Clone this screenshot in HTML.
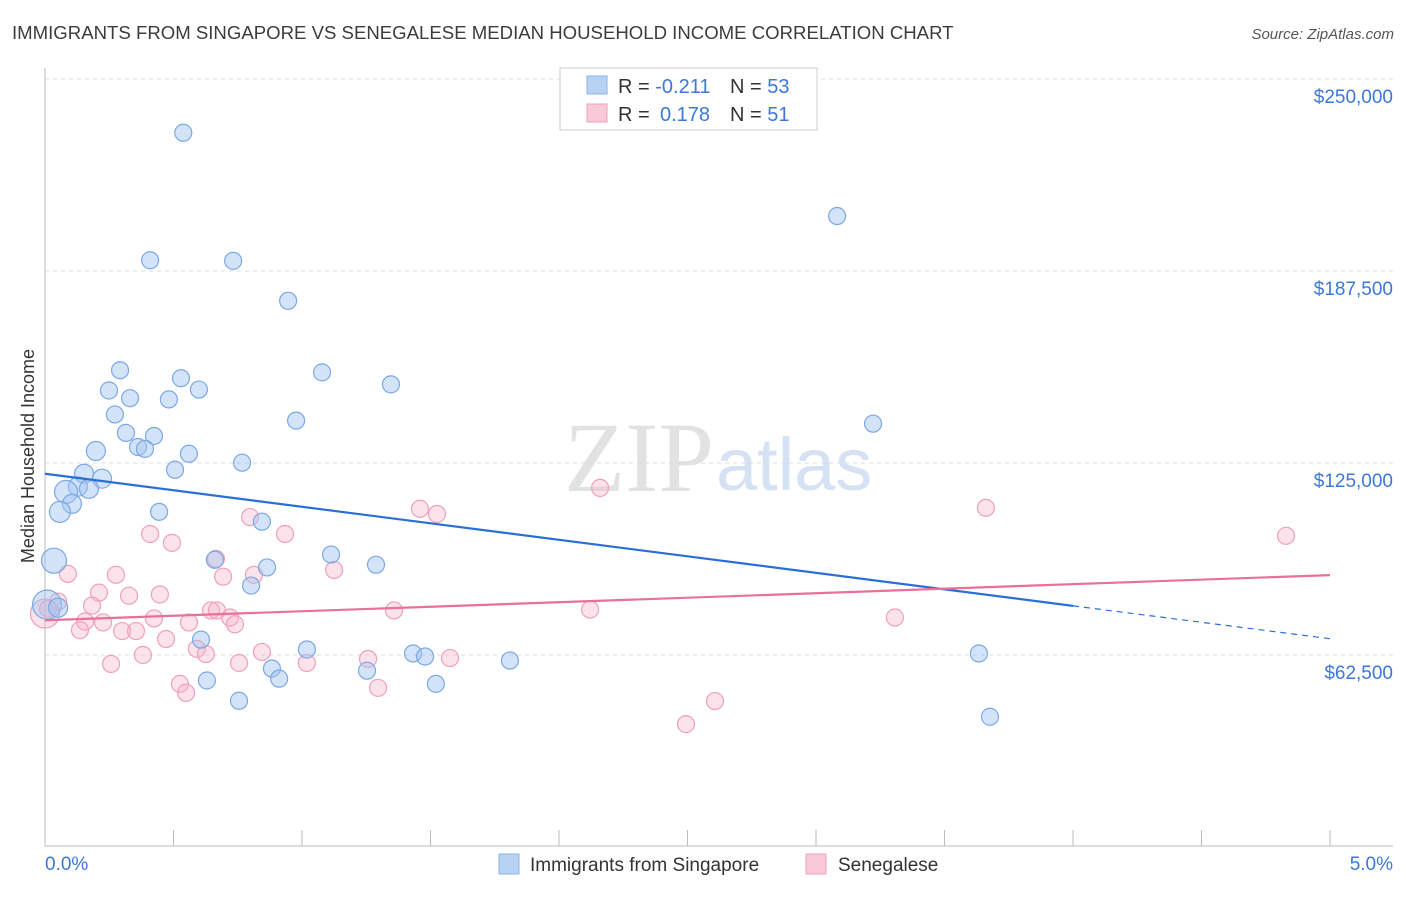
<!DOCTYPE html>
<html><head><meta charset="utf-8"><style>
body{margin:0;background:#fff;font-family:"Liberation Sans",sans-serif;overflow:hidden;}
</style></head><body>
<svg id="c" width="1406" height="892" xmlns="http://www.w3.org/2000/svg">
<text x="12" y="39" font-size="18.6" fill="#3c3c3c">IMMIGRANTS FROM SINGAPORE VS SENEGALESE MEDIAN HOUSEHOLD INCOME CORRELATION CHART</text>
<text x="1394" y="39" font-size="15" fill="#555" text-anchor="end" font-style="italic">Source: ZipAtlas.com</text>
<text transform="translate(34,456) rotate(-90)" font-size="18" fill="#333" text-anchor="middle">Median Household Income</text>
<text x="714" y="491" font-size="100" fill="#e2e2e2" text-anchor="end" font-family="Liberation Serif,serif">ZIP</text>
<text x="716" y="490" font-size="74" fill="#d4e2f4">atlas</text>
<g id="grid"></g><g id="pts"></g><g id="lines"></g>
<g>
<rect x="560" y="68" width="257" height="62" fill="#fff" stroke="#ccc"/>
<rect x="587" y="76" width="20" height="18" fill="#b8d2f4" stroke="#8ab4e8"/>
<rect x="587" y="104" width="20" height="18" fill="#f8cad8" stroke="#f0a0b8"/>
<text x="618" y="93" font-size="20" fill="#333">R = <tspan fill="#3b78d8">-0.211</tspan>   <tspan x="730">N = </tspan><tspan fill="#3b78d8">53</tspan></text>
<text x="618" y="121" font-size="20" fill="#333">R =  <tspan fill="#3b78d8" x="660">0.178</tspan><tspan x="730">N = </tspan><tspan fill="#3b78d8">51</tspan></text>
</g>
<g>
<rect x="499" y="854" width="20" height="20" fill="#b8d2f4" stroke="#8ab4e8"/>
<text x="530" y="871" font-size="19" fill="#333">Immigrants from Singapore</text>
<rect x="806" y="854" width="20" height="20" fill="#f8cad8" stroke="#f0a0b8"/>
<text x="838" y="871" font-size="19" fill="#333">Senegalese</text>
</g>
<text x="45" y="870" font-size="19" fill="#3b78d8">0.0%</text>
<text x="1393" y="870" font-size="19" fill="#3b78d8" text-anchor="end">5.0%</text>
</svg>
<script>
const yTicks=[62500,125000,187500,250000];
const yTickLabels=["$62,500","$125,000","$187,500","$250,000"];
const blueX=[0.538,0.409,0.732,0.946,3.082,0.292,0.529,1.078,1.346,0.249,0.599,0.331,0.482,0.272,0.977,3.222,0.315,0.424,0.362,0.389,0.198,0.560,0.767,0.506,0.152,0.222,0.128,0.171,0.082,0.105,0.058,0.444,0.844,0.035,0.661,1.113,1.288,0.864,0.802,0.008,0.051,0.607,1.019,1.432,1.479,1.809,3.634,0.883,1.253,0.630,0.911,1.521,0.755,3.677];
const blueY=[232500,191000,190800,177800,205400,155200,152600,154500,150600,148600,148900,146100,145700,140800,138800,137800,134800,133800,130200,129600,128900,128000,125100,122800,121500,119900,117300,116600,115600,111700,109100,109100,105900,93200,93500,95200,91900,91000,85100,78900,77900,67500,64300,63000,62000,60700,63000,58100,57400,54200,54800,53100,47600,42400];
const blueR=[8,8,8,8,8,8,8,8,8,8,8,8,8,8,8,8,8,8,8,8,9,8,8,8,9,9,9,9,11,9,10,8,8,12,8,8,8,8,8,14,9,8,8,8,8,8,8,8,8,8,8,8,8,8];
const pinkX=[2.160,3.661,1.459,1.525,0.798,0.934,0.409,0.494,4.829,0.665,1.125,0.089,0.276,0.813,0.693,0.210,0.327,0.447,0.051,0.183,0.646,0.669,0.012,2.121,1.358,0.720,3.307,0.424,0.156,0.226,0.560,0.739,0.136,0.300,0.354,0.471,0.591,0.626,0.381,0.844,1.257,1.576,0.257,0.755,1.019,0.525,1.296,0.549,2.607,2.494,0.0];
const pinkY=[116900,110400,110100,108400,107400,101900,101900,99000,101300,93800,90200,88900,88600,88600,88000,82800,81800,82200,79900,78600,77000,77000,77600,77300,77000,74700,74700,74400,73400,73100,73100,72500,70600,70300,70300,67700,64500,62800,62500,63500,61200,61500,59600,59900,59900,53100,51800,50200,47500,40000,76000];
const pinkR=[8,8,8,8,8,8,8,8,8,8,8,8,8,8,8,8,8,8,8,8,8,8,8,8,8,8,8,8,8,8,8,8,8,8,8,8,8,8,8,8,8,8,8,8,8,8,8,8,8,8,14];
const blueLine=[[0,121500],[4.0,78500]], blueDash=[[4.0,78500],[5.0,67800]];
const pinkLine=[[0,73800],[5.0,88500]];
const X=v=>45+v*257, Y=v=>847-v/62500*192;
const ns="http://www.w3.org/2000/svg";
function mk(t,a,p){const e=document.createElementNS(ns,t);for(const k in a)e.setAttribute(k,a[k]);p.appendChild(e);return e;}
const g=document.getElementById('grid');
mk('line',{x1:45,y1:68,x2:45,y2:846,stroke:'#bbb'},g);
mk('line',{x1:45,y1:846,x2:1393,y2:846,stroke:'#bbb'},g);
for(let i=1;i<=10;i++){mk('line',{x1:X(i*0.5),y1:830,x2:X(i*0.5),y2:846,stroke:'#bbb'},g);}
yTicks.forEach((t,i)=>{
 const l=mk('line',{x1:45,y1:Y(t),x2:1393,y2:Y(t),stroke:'#ddd','stroke-dasharray':'4,4'},g);
 
 
 const tx=mk('text',{x:1393,y:Y(t)+24,'font-size':19,fill:'#3b78d8','text-anchor':'end'},g);
 tx.textContent=yTickLabels[i];
 
 
});
const p=document.getElementById('pts');
pinkX.forEach((v,i)=>{const c=mk('circle',{cx:X(v),cy:Y(pinkY[i]),r:pinkR[i]+0.5,fill:'rgba(245,175,198,0.35)',stroke:'#f0a0b8','stroke-width':1.2},p);
 
 });
blueX.forEach((v,i)=>{const c=mk('circle',{cx:X(v),cy:Y(blueY[i]),r:blueR[i]+0.5,fill:'rgba(160,196,240,0.45)',stroke:'#7aa8e4','stroke-width':1.2},p);
 
 });
const L=document.getElementById('lines');
let a=mk('line',{x1:X(blueLine[0][0]),y1:Y(blueLine[0][1]),x2:X(blueLine[1][0]),y2:Y(blueLine[1][1]),stroke:'#2a6fd6','stroke-width':2.2},L);


a=mk('line',{x1:X(blueDash[0][0]),y1:Y(blueDash[0][1]),x2:X(blueDash[1][0]),y2:Y(blueDash[1][1]),stroke:'#2a6fd6','stroke-width':1.2,'stroke-dasharray':'6,5'},L);


a=mk('line',{x1:X(pinkLine[0][0]),y1:Y(pinkLine[0][1]),x2:X(pinkLine[1][0]),y2:Y(pinkLine[1][1]),stroke:'#e8709a','stroke-width':2.2},L);


</script>
</body></html>
